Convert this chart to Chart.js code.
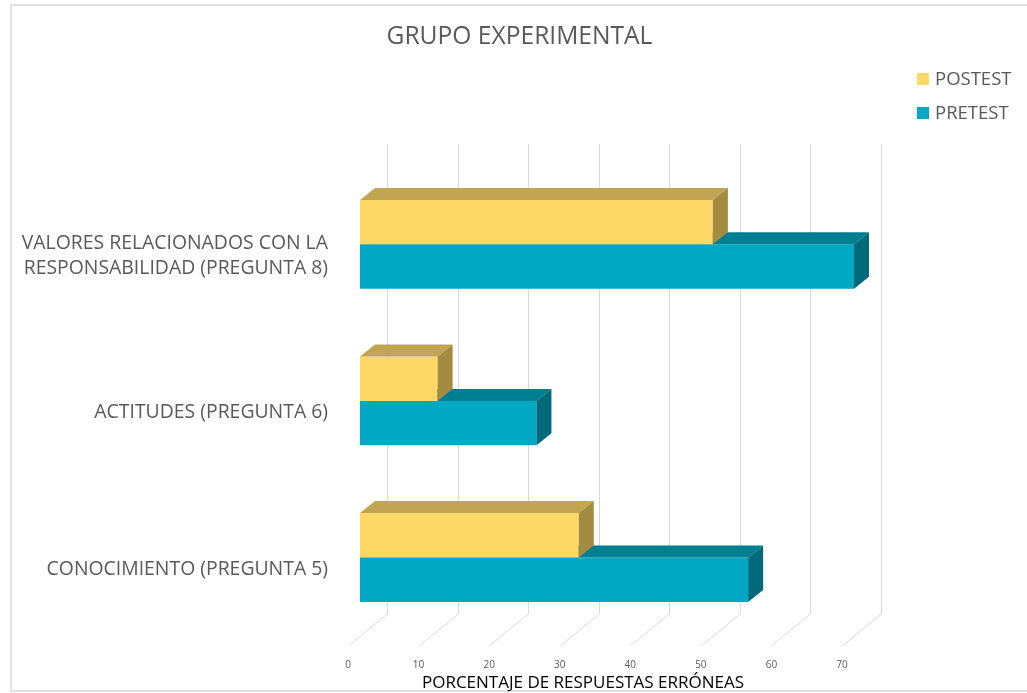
<!DOCTYPE html>
<html>
<head>
<meta charset="utf-8">
<script src="https://cdn.jsdelivr.net/npm/chart.js@4.4.1/dist/chart.umd.min.js"></script>
<style>
html,body{margin:0;padding:0;background:#ffffff;}
#wrap{width:1027px;height:693px;position:relative;overflow:hidden;}
canvas{display:block;}
</style>
</head>
<body>
<div id="wrap"><canvas id="c" width="1027" height="693"></canvas></div>
<script>
// ---- data ----
const categories = [
  ["VALORES RELACIONADOS CON LA", "RESPONSABILIDAD (PREGUNTA 8)"],
  "ACTITUDES (PREGUNTA 6)",
  "CONOCIMIENTO (PREGUNTA 5)"
];
const seriesNames = ["POSTEST", "PRETEST"];
const postestValues = [50, 11, 31];
const pretestValues = [70, 25, 55];
const xTickValues = [0, 10, 20, 30, 40, 50, 60, 70];
const chartTitle = "GRUPO EXPERIMENTAL";
const xAxisTitle = "PORCENTAJE DE RESPUESTAS ERRÓNEAS";

// ---- styles ----
const FONT = "'Open Sans', 'Noto Sans', sans-serif";
const TEXT_GRAY = "#595959";
const frontColors = ["#FDD867", "#02A7C4"];
const topColors   = ["#C2A552", "#007E92"];
const sideColors  = ["#A38B41", "#00697A"];
const BAR_DX = 15, BAR_DY = 12;     // bar depth offsets
const WALL_DX = 27, WALL_DY = 22;   // back wall offset from bar front plane
const FLOOR_DX = -12, FLOOR_DY = 10; // floor front offset from bar front plane

const depth3d = {
  id: 'depth3d',
  beforeDraw(chart) {
    const ctx = chart.ctx;
    ctx.save();
    ctx.strokeStyle = '#d9d9d9';
    ctx.lineWidth = 1.5;
    ctx.strokeRect(11, 5, 1100, 686);
    ctx.restore();
  },
  beforeDatasetsDraw(chart) {
    const ctx = chart.ctx, xs = chart.scales.x, ca = chart.chartArea;
    ctx.save();
    ctx.strokeStyle = '#d9d9d9';
    ctx.lineWidth = 1;
    xs.ticks.forEach(t => {
      const px = Math.round(xs.getPixelForValue(t.value)) + 0.5;
      ctx.beginPath();
      ctx.moveTo(px + WALL_DX, ca.top - WALL_DY);
      ctx.lineTo(px + WALL_DX, ca.bottom - WALL_DY);
      ctx.lineTo(px + FLOOR_DX, ca.bottom + FLOOR_DY);
      ctx.stroke();
    });
    ctx.restore();
  },
  afterDatasetDraw(chart, args) {
    const ctx = chart.ctx;
    const i = args.index;
    const meta = args.meta;
    ctx.save();
    meta.data.forEach(bar => {
      const p = bar.getProps(['x', 'y', 'base', 'height'], true);
      const t = p.y - p.height / 2, b = p.y + p.height / 2;
      const l = Math.min(p.base, p.x), r = Math.max(p.base, p.x);
      ctx.fillStyle = topColors[i];
      ctx.beginPath();
      ctx.moveTo(l, t);
      ctx.lineTo(r, t);
      ctx.lineTo(r + BAR_DX, t - BAR_DY);
      ctx.lineTo(l + BAR_DX, t - BAR_DY);
      ctx.closePath();
      ctx.fill();
      ctx.fillStyle = sideColors[i];
      ctx.beginPath();
      ctx.moveTo(r, t);
      ctx.lineTo(r + BAR_DX, t - BAR_DY);
      ctx.lineTo(r + BAR_DX, b - BAR_DY);
      ctx.lineTo(r, b);
      ctx.closePath();
      ctx.fill();
    });
    ctx.restore();
  },
  afterDraw(chart) {
    const ctx = chart.ctx, xs = chart.scales.x;
    ctx.save();
    ctx.font = "18.5px " + FONT;
    ctx.textBaseline = 'middle';
    ctx.textAlign = 'left';
    chart.data.datasets.forEach((ds, k) => {
      const cy = 79 + k * 34;
      ctx.fillStyle = ds.backgroundColor;
      ctx.fillRect(917, cy - 6, 12, 12);
      ctx.fillStyle = TEXT_GRAY;
      ctx.fillText(ds.label, 935, cy + 1);
    });
    ctx.font = "17px " + FONT;
    ctx.fillStyle = '#000000';
    ctx.textAlign = 'center';
    ctx.fillText(xAxisTitle, xs.getPixelForValue(35) - 24, 683);
    ctx.restore();
  }
};

new Chart(document.getElementById('c'), {
  type: 'bar',
  data: {
    labels: categories,
    datasets: [
      { label: seriesNames[0], data: postestValues, backgroundColor: frontColors[0] },
      { label: seriesNames[1], data: pretestValues, backgroundColor: frontColors[1] }
    ]
  },
  options: {
    indexAxis: 'y',
    responsive: false,
    animation: false,
    devicePixelRatio: 1,
    layout: { padding: { left: 12, right: 0, top: 0, bottom: 0 } },
    datasets: { bar: { categoryPercentage: 0.567, barPercentage: 1.0, borderWidth: 0 } },
    plugins: {
      legend: { display: false },
      tooltip: { enabled: false },
      title: {
        display: true,
        text: chartTitle,
        color: TEXT_GRAY,
        font: { family: FONT, size: 24.6, weight: 'normal', lineHeight: 1.2 },
        padding: { top: 22, bottom: 114.5 }
      }
    },
    scales: {
      x: {
        type: 'linear',
        min: 0, max: 70,
        afterBuildTicks(scale) { scale.ticks = xTickValues.map(v => ({ value: v })); },
        grid: { display: false, drawTicks: false },
        border: { display: false },
        ticks: { color: TEXT_GRAY, font: { family: FONT, size: 10 }, padding: 23, labelOffset: -12, maxRotation: 0 },
        afterFit(scale) { scale.height = 56; }
      },
      y: {
        type: 'category',
        grid: { display: false, drawTicks: false },
        border: { display: false },
        ticks: { color: TEXT_GRAY, font: { family: FONT, size: 19.4, lineHeight: 1.3 }, padding: 32, labelOffset: 12 },
        afterFit(scale) { scale.width = 348; }
      },
      yRight: {
        type: 'linear',
        axis: 'y',
        position: 'right',
        display: true,
        grid: { display: false, drawTicks: false },
        border: { display: false },
        ticks: { display: false },
        afterFit(scale) { scale.width = 173; }
      }
    }
  },
  plugins: [depth3d]
});
</script>
</body>
</html>
